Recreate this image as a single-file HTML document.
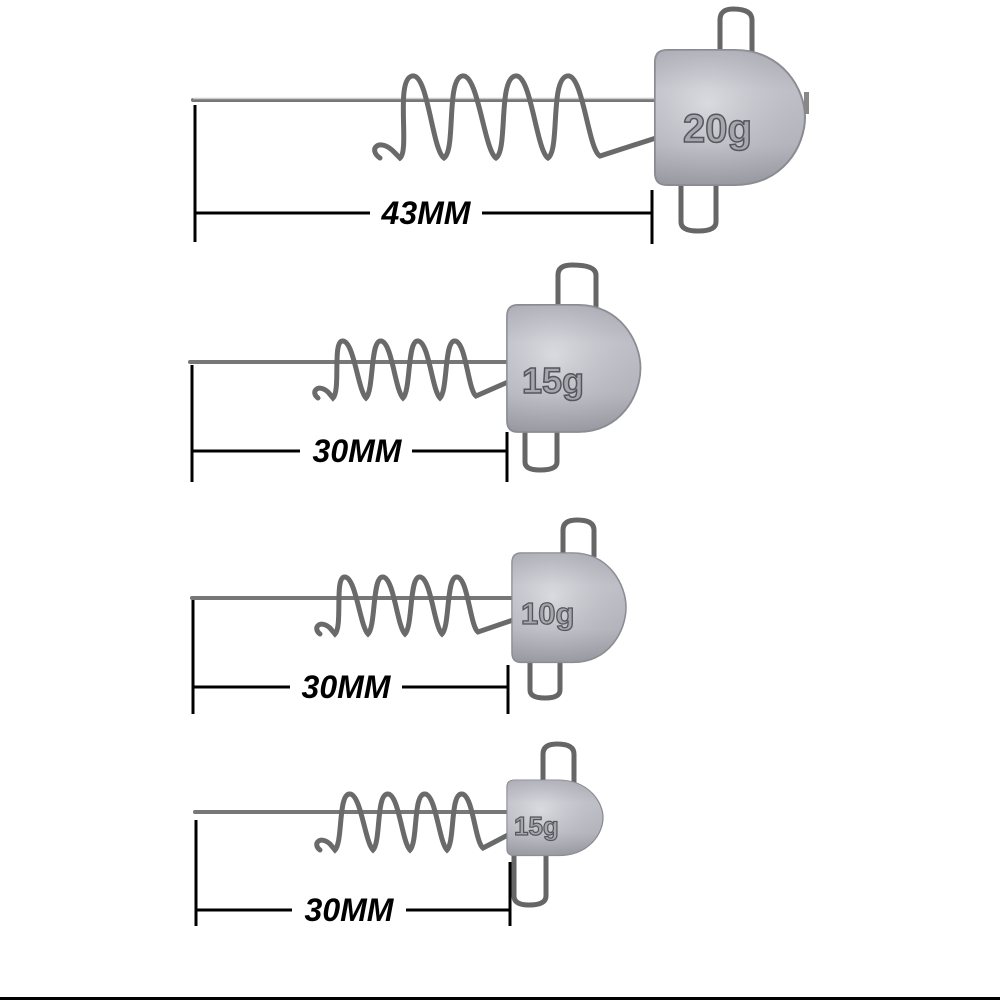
<!DOCTYPE html>
<html><head><meta charset="utf-8"><style>
html,body{margin:0;padding:0;background:#fff;width:1000px;height:1000px;overflow:hidden}
svg{display:block}
.dim{stroke:#000;stroke-width:3;fill:none}
.lbl{font-family:"Liberation Sans",sans-serif;font-weight:bold;font-style:italic;fill:#000}
.wire{stroke:#777;stroke-width:4;fill:none;stroke-linecap:round}
.wireh{stroke:#ccc;stroke-width:1.5;fill:none}
.loop{stroke:#666;stroke-width:5;fill:none}
.sp{stroke:#6a6a6a;stroke-width:5;fill:none;stroke-linecap:round}
</style></head><body>
<svg width="1000" height="1000" viewBox="0 0 1000 1000">
<defs>
<linearGradient id="hg" x1="0" y1="0" x2="0" y2="1">
<stop offset="0" stop-color="#b4b5bd"/><stop offset="0.3" stop-color="#d3d4db"/><stop offset="0.7" stop-color="#c4c5cc"/><stop offset="1" stop-color="#9a9ba3"/>
</linearGradient>
<radialGradient id="hr" cx="0.35" cy="0.4" r="0.7">
<stop offset="0" stop-color="#e0e1e6" stop-opacity="0.6"/><stop offset="1" stop-color="#8a8b93" stop-opacity="0.3"/>
</radialGradient>
<g id="head">
<path d="M0,12 Q0,0 12,0 L80,0 C128,0 150,40 150,67 C150,96 128,135 80,135 L12,135 Q0,135 0,123 Z" fill="url(#hg)" stroke="#8a8b92" stroke-width="2"/>
<path d="M0,12 Q0,0 12,0 L80,0 C128,0 150,40 150,67 C150,96 128,135 80,135 L12,135 Q0,135 0,123 Z" fill="url(#hr)"/>
</g>
</defs>

<path class="loop" d="M720,52 L720,20 Q720,9 733,9 Q752,9 752,20 L752,55"/>
<path class="loop" d="M681,182 L681,222 Q681,231 698,231 Q716,231 716,222 L716,182"/>
<line class="wire" x1="193" y1="100" x2="656" y2="100"/>
<line class="wireh" x1="193" y1="98.5" x2="656" y2="98.5"/>
<path class="sp" d="M380,158 C368,150 378,138 392,150 L400,158 C410,150 395,80 412,76 C428,72 432,150 444,158 C456,150 446,80 462,76 C478,72 484,150 496,158 C508,150 498,80 515,76 C531,72 536,150 548,158 C560,150 550,80 567,76 C583,72 588,150 600,156 L656,138"/>
<use href="#head" transform="translate(655,50)"/>
<rect x="804" y="92" width="5" height="22" fill="#888"/>
<text x="683" y="142" font-family="Liberation Sans,sans-serif" font-weight="bold" font-size="40" fill="#a5a6ae" stroke="#55565c" stroke-width="1.5">20g</text>
<line class="dim" x1="195" y1="105" x2="195" y2="242"/>
<line class="dim" x1="652" y1="190" x2="652" y2="244"/>
<line class="dim" x1="195" y1="213" x2="370" y2="213"/>
<line class="dim" x1="482" y1="213" x2="652" y2="213"/>
<text class="lbl" x="426" y="224" font-size="32" text-anchor="middle">43MM</text>

<path class="loop" d="M558,305 L558,275 Q558,265 572,265 Q596,265 596,275 L596,307"/>
<path class="loop" d="M525,430 L525,462 Q525,470 540,470 Q557,470 557,462 L557,430"/>
<line class="wire" x1="190" y1="362" x2="508" y2="362"/>
<path class="sp" d="M318,398 C310,392 318,383 328,392 L333,398 C341,390 332,340 343,341 C354,342 358,390 366,398 C374,390 370,340 381,341 C392,342 395,390 403,398 C411,390 407,340 418,341 C429,342 432,390 440,398 C448,390 444,340 455,341 C466,342 468,390 476,396 L508,382"/>
<use href="#head" transform="translate(507,305) scale(0.89,0.94)"/>
<text x="522" y="393" font-family="Liberation Sans,sans-serif" font-weight="bold" font-size="36" fill="#a5a6ae" stroke="#55565c" stroke-width="1.5">15g</text>
<line class="dim" x1="192" y1="365" x2="192" y2="482"/>
<line class="dim" x1="507" y1="432" x2="507" y2="482"/>
<line class="dim" x1="192" y1="451" x2="300" y2="451"/>
<line class="dim" x1="412" y1="451" x2="507" y2="451"/>
<text class="lbl" x="357" y="462" font-size="32" text-anchor="middle">30MM</text>

<path class="loop" d="M563,555 L563,530 Q563,520 577,520 Q594,520 594,530 L594,557"/>
<path class="loop" d="M530,662 L530,690 Q530,698 545,698 Q560,698 560,690 L560,662"/>
<line class="wire" x1="192" y1="598" x2="513" y2="598"/>
<path class="sp" d="M320,634 C312,628 320,619 330,628 L335,634 C343,626 334,576 345,577 C356,578 360,626 368,634 C376,626 372,576 383,577 C394,578 397,626 405,634 C413,626 409,576 420,577 C431,578 434,626 442,634 C450,626 446,576 457,577 C468,578 470,626 478,632 L513,620"/>
<use href="#head" transform="translate(512,553) scale(0.76,0.81)"/>
<text x="521" y="624" font-family="Liberation Sans,sans-serif" font-weight="bold" font-size="31" fill="#a5a6ae" stroke="#55565c" stroke-width="1.3">10g</text>
<line class="dim" x1="193" y1="600" x2="193" y2="714"/>
<line class="dim" x1="508" y1="665" x2="508" y2="714"/>
<line class="dim" x1="193" y1="687" x2="290" y2="687"/>
<line class="dim" x1="402" y1="687" x2="508" y2="687"/>
<text class="lbl" x="346" y="698" font-size="32" text-anchor="middle">30MM</text>

<path class="loop" d="M543,782 L543,754 Q543,744 557,744 Q574,744 574,754 L574,784"/>
<path class="loop" d="M514,852 L514,896 Q514,905 529,905 Q546,905 546,896 L546,852"/>
<line class="wire" x1="195" y1="812" x2="508" y2="812"/>
<path class="sp" d="M320,850 C312,844 320,835 330,844 L335,850 C343,842 338,793 350,794 C361,795 365,842 373,850 C381,842 376,793 388,794 C399,795 402,842 410,850 C418,842 413,793 425,794 C436,795 439,842 447,850 C455,842 450,793 462,794 C473,795 475,842 483,848 L508,835"/>
<use href="#head" transform="translate(507,780) scale(0.64,0.56)"/>
<text x="514" y="835" font-family="Liberation Sans,sans-serif" font-weight="bold" font-size="26" fill="#a5a6ae" stroke="#55565c" stroke-width="1.2">15g</text>
<line class="dim" x1="196" y1="820" x2="196" y2="926"/>
<line class="dim" x1="510" y1="862" x2="510" y2="926"/>
<line class="dim" x1="196" y1="910" x2="292" y2="910"/>
<line class="dim" x1="406" y1="910" x2="510" y2="910"/>
<text class="lbl" x="349" y="921" font-size="32" text-anchor="middle">30MM</text>

<rect x="0" y="997" width="1000" height="3" fill="#000"/>
</svg>
</body></html>
